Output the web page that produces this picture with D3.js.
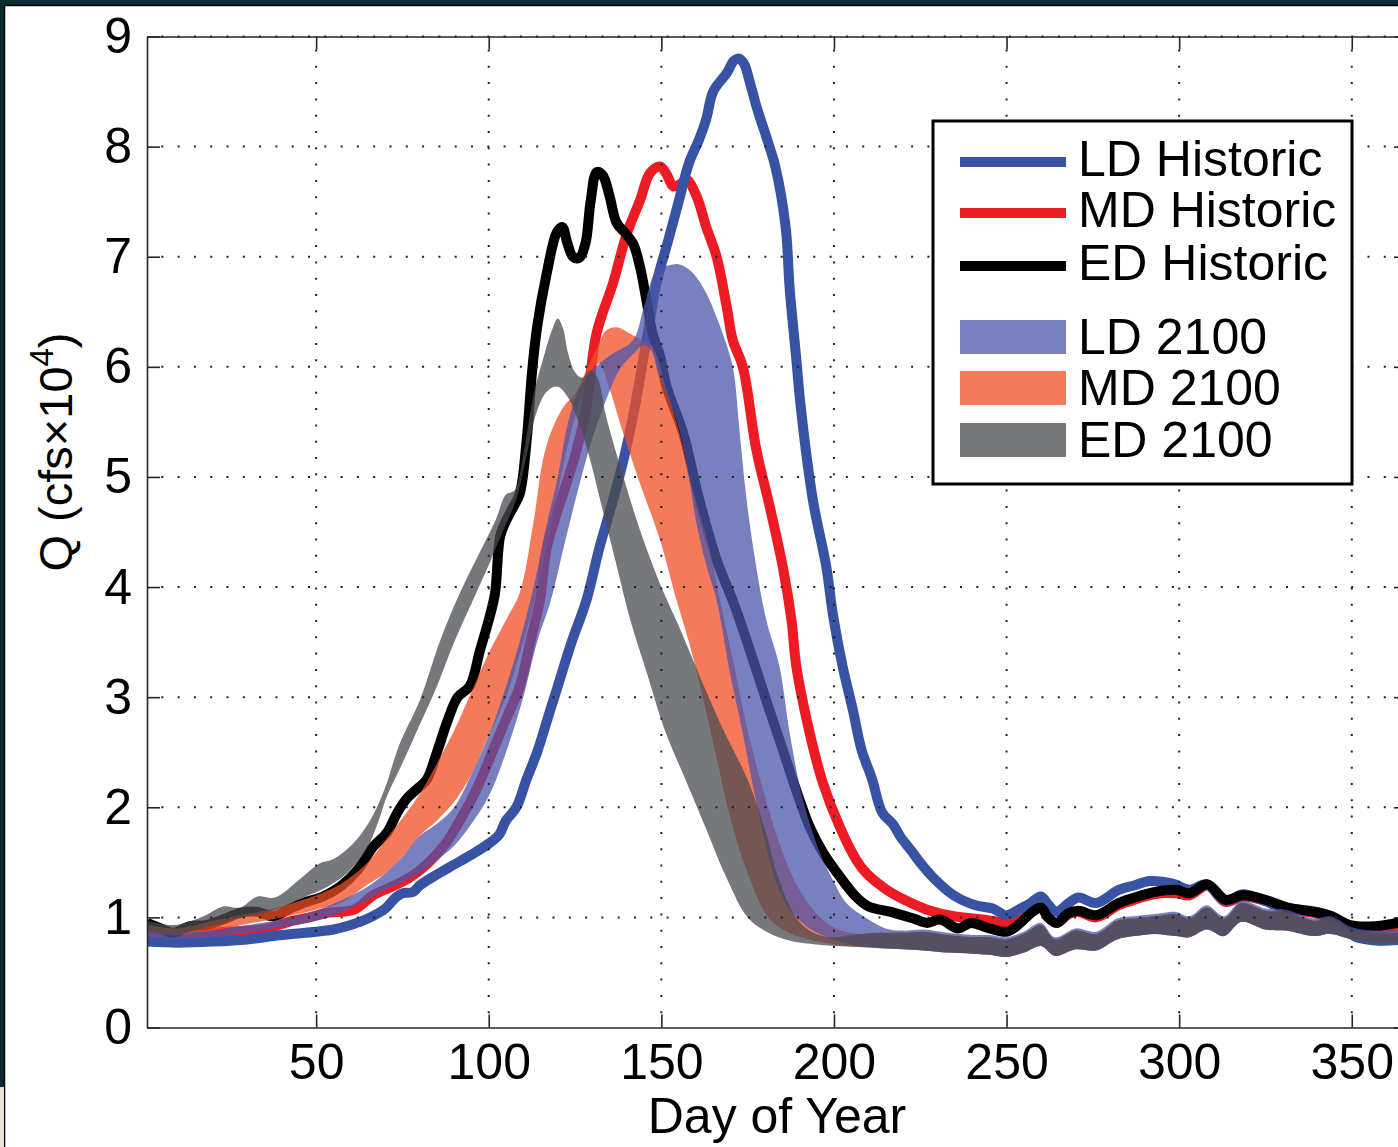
<html>
<head>
<script src="https://d3js.org/d3.v7.min.js"></script>
<style>
  body { margin: 0; background: #0c2a33; }
  svg { display: block; }
  text { font-family: "Liberation Sans", Arial, Helvetica, sans-serif; fill: #000; }
</style>
</head>
<body>
<svg id="chart" width="1398" height="1147"></svg>
<script>
    // ---- data: [day of year, Q (cfs x 10^4)] ----
    const ldHistoric = [[1,0.78],[10,0.77],[20,0.78],[30,0.80],[40,0.84],[50,0.87],[55,0.89],[60,0.93],[65,0.99],[70,1.08],[73,1.18],[75,1.22],[78,1.23],[80,1.29],[85,1.39],[90,1.48],[95,1.57],[100,1.67],[103,1.75],[105,1.88],[108,2.0],[110.9,2.25],[114,2.5],[117,2.8],[120,3.1],[124,3.5],[128.3,3.88],[132,4.35],[136,4.79],[139,5.15],[141.8,5.55],[145.7,6.24],[148.6,6.76],[152,7.15],[155,7.5],[158,7.85],[161,8.07],[163,8.25],[165,8.5],[169,8.67],[171,8.78],[172.5,8.8],[174,8.75],[175.5,8.6],[177.6,8.36],[181,8.03],[183,7.82],[186,7.27],[187.2,6.7],[189,6.1],[190.5,5.6],[193.9,4.79],[197.8,4.18],[199.7,3.75],[202.5,3.28],[205.5,2.88],[208,2.52],[211,2.26],[214,1.95],[217,1.85],[219.3,1.73],[222.8,1.59],[224.4,1.52],[228.5,1.37],[234.7,1.20],[241,1.11],[246,1.08],[250,1.02],[254,1.08],[257,1.13],[259.9,1.19],[262,1.12],[264.4,1.05],[268,1.13],[270.8,1.18],[276,1.13],[282.5,1.25],[287,1.29],[291.5,1.33],[297.9,1.31],[303,1.25],[308,1.30],[313.4,1.15],[318.5,1.21],[324,1.16],[328.8,1.10],[335,1.07],[340,1.05],[344,1.01],[347,0.95],[350.7,0.83],[357,0.79],[366,0.80]];

    const mdHistoric = [[1,0.84],[8,0.82],[15,0.84],[23,0.87],[31,0.88],[36,0.90],[42,0.96],[48,1.0],[53,1.04],[61,1.07],[66.5,1.20],[72,1.28],[77,1.36],[82,1.48],[87,1.65],[92,1.90],[97,2.2],[101,2.5],[105,2.8],[109,3.1],[112,3.5],[114.8,3.88],[116.7,4.34],[119,4.6],[122.5,4.94],[125.5,5.25],[128.3,5.64],[131.2,6.30],[136,6.76],[140,7.21],[143.8,7.51],[146.7,7.76],[149.6,7.82],[151.5,7.75],[153.4,7.64],[155.5,7.66],[157.3,7.70],[160.2,7.55],[163,7.27],[166,7.00],[168.9,6.55],[170.7,6.24],[173.6,6.0],[177.5,5.25],[181.4,4.73],[185.2,4.18],[187.7,3.70],[189.1,3.28],[193,2.67],[196.8,2.22],[201.7,1.82],[206.5,1.52],[209.4,1.40],[215.3,1.25],[220.4,1.16],[227,1.07],[234.7,1.01],[243.7,0.98],[250,0.95],[254,0.98],[257.5,1.05],[260,1.09],[262,1.0],[264.5,0.95],[268,1.03],[270.8,1.05],[276,1.0],[282.4,1.11],[287,1.16],[292.7,1.21],[299,1.22],[303,1.20],[308.2,1.29],[313.4,1.14],[318.5,1.19],[324.9,1.15],[331.4,1.08],[339,1.04],[344.2,0.99],[349.5,0.92],[357,0.90],[366,0.93]];

    const edHistoric = [[1,0.95],[5,0.90],[8.5,0.86],[13.5,0.92],[18,0.93],[23,0.98],[28,1.04],[33,1.05],[37.5,1.01],[42.5,1.08],[47,1.14],[52,1.19],[57,1.28],[62,1.43],[66.5,1.64],[70.5,1.77],[73.5,1.95],[76,2.07],[79,2.16],[82,2.25],[85,2.5],[88,2.78],[91,3.0],[94.5,3.1],[97.5,3.43],[100,3.7],[101.8,3.94],[103.3,4.46],[105,4.6],[107,4.72],[109,4.85],[111,5.34],[112.5,5.94],[114,6.36],[116.8,6.85],[119.7,7.22],[121.3,7.27],[122.8,7.12],[124.4,7.0],[126.2,6.99],[128,7.12],[129.5,7.5],[131.3,7.77],[133,7.74],[135,7.55],[137,7.31],[139.4,7.22],[141.8,7.12],[143.8,6.91],[145.7,6.6],[147.5,6.3],[149.6,6.1],[151.5,5.82],[156.3,5.4],[161,4.79],[166,4.25],[171,3.85],[175.6,3.43],[180.4,2.97],[185.2,2.52],[190,2.07],[193,1.82],[196.8,1.59],[201,1.40],[206.3,1.19],[210,1.10],[216.5,1.05],[223,0.99],[227,0.95],[230.7,0.98],[236,0.90],[239.7,0.95],[245,0.90],[250.2,0.87],[254,0.95],[257.5,1.05],[260,1.09],[262,1.0],[264.5,0.95],[268,1.04],[270.8,1.06],[276,1.02],[282.4,1.13],[287,1.18],[292.7,1.23],[299,1.25],[303,1.22],[308.2,1.30],[313.4,1.16],[318.5,1.20],[324.9,1.16],[331.4,1.09],[339,1.05],[344.2,1.01],[349.5,0.93],[357,0.92],[366,0.97]];

    // 2100 ensemble envelopes (upper / lower edge). All three share the low-flow tail.
    const tailHi = [[220,0.86],[226,0.87],[233,0.84],[240,0.82],[245,0.82],[250,0.80],[255,0.85],[260,0.93],[264,0.80],[270,0.88],[276,0.85],[282,0.97],[287,0.99],[293,1.01],[299,1.03],[303,0.99],[308,1.09],[313,0.99],[318,1.13],[325,1.06],[331,1.05],[339,0.97],[344,0.99],[350,0.89],[357,0.86],[366,0.87]];
    const tailLo = [[220,0.71],[226,0.70],[233,0.68],[240,0.67],[245,0.66],[250,0.64],[255,0.68],[260,0.74],[264,0.65],[270,0.71],[276,0.70],[282,0.80],[287,0.83],[293,0.85],[299,0.83],[303,0.82],[308,0.89],[313,0.83],[318,0.96],[325,0.89],[331,0.88],[339,0.83],[344,0.85],[350,0.80],[357,0.77],[366,0.78]];

    const ld2100Hi = [[1,0.90],[10,0.86],[20,0.88],[30,0.93],[40,0.98],[50,1.06],[57,1.15],[65,1.28],[70,1.40],[75,1.55],[80,1.74],[85,1.85],[90,2.0],[95,2.3],[100,2.65],[104,3.0],[108,3.4],[113,4.0],[117,4.6],[120,5.0],[123,5.5],[126,5.78],[130,5.97],[136,6.12],[141.8,6.24],[145,6.55],[148.6,6.88],[152,6.92],[155.3,6.93],[159.2,6.85],[163,6.67],[166,6.45],[168,6.28],[170.7,6.0],[172.7,5.40],[174.7,4.79],[177.5,4.18],[180.4,3.70],[184.2,3.28],[187.2,2.67],[191,2.07],[195.9,1.59],[199.7,1.34],[203.6,1.13],[210,0.98],[215,0.90]];
    const ld2100Lo = [[1,0.82],[10,0.80],[20,0.82],[30,0.86],[40,0.91],[50,0.97],[57,1.04],[65,1.16],[70,1.25],[75,1.32],[80,1.40],[85,1.52],[90,1.65],[95,1.85],[100,2.10],[105,2.50],[110,3.0],[114,3.5],[118,3.88],[122,4.4],[126,4.9],[130,5.35],[134,5.7],[138,5.98],[142,6.12],[145,6.2],[147,6.15],[149,5.95],[151.5,5.75],[155,5.45],[158,5.0],[160,4.6],[163,4.2],[166,3.88],[170,3.2],[173.6,2.67],[176.5,2.2],[179.4,1.77],[183,1.34],[187,1.08],[192,0.92],[198,0.82],[204,0.76],[210,0.73],[215,0.72]];

    const md2100Hi = [[1,0.93],[10,0.90],[20,0.97],[30,1.03],[40,1.10],[50,1.20],[57,1.30],[65,1.50],[70,1.70],[75,1.90],[80,2.12],[85,2.40],[90,2.70],[95,3.05],[100,3.40],[105,3.70],[109,3.95],[113,4.60],[116,5.2],[119,5.48],[122,5.65],[125,5.75],[128,5.95],[131,6.15],[134,6.33],[137,6.36],[141,6.30],[145,6.23],[147.5,6.18],[151.5,5.79],[155.3,5.40],[159.2,4.88],[164,4.34],[167,3.88],[171,3.3],[175,2.7],[180,2.1],[185,1.6],[190,1.25],[196,1.0],[202,0.88],[208,0.85],[214,0.86]];
    const md2100Lo = [[1,0.86],[10,0.84],[20,0.88],[30,0.94],[40,1.00],[50,1.07],[57,1.13],[65,1.30],[70,1.40],[75,1.55],[80,1.74],[85,1.88],[90,2.05],[95,2.30],[100,2.65],[105,3.0],[110,3.5],[115,4.1],[119,4.7],[123,5.3],[127,5.75],[130,5.98],[132,6.03],[135,5.8],[138,5.49],[143.8,4.94],[149.6,4.43],[154.4,3.88],[158,3.5],[162,3.0],[166,2.45],[170,1.9],[175,1.4],[181,1.0],[187,0.86],[194,0.79],[201,0.75],[208,0.73],[214,0.72]];

    const ed2100Hi = [[1,0.97],[8.5,0.93],[14,0.97],[18,1.02],[23,1.10],[28,1.09],[33,1.19],[38,1.18],[45,1.34],[51,1.49],[55,1.53],[61,1.68],[66,1.90],[70,2.18],[74,2.56],[80,2.97],[86,3.52],[92,3.97],[97,4.29],[102,4.61],[105,4.84],[107.5,4.88],[110,5.2],[113,5.75],[116,6.1],[118.5,6.35],[120,6.44],[121.5,6.35],[123,6.12],[125,5.95],[127,5.9],[129.5,5.97],[131.5,5.9],[134,5.55],[139,5.0],[144,4.5],[150,4.0],[155,3.65],[161,3.2],[168,2.7],[175,2.25],[180,1.8],[184,1.35],[189,1.0],[194,0.86],[199,0.82],[205,0.84],[212,0.86]];
    const ed2100Lo = [[1,0.87],[8.5,0.84],[18,0.91],[28,1.00],[37.5,1.06],[47,1.19],[52.7,1.27],[58.5,1.39],[64.3,1.60],[68,1.87],[70.5,2.10],[75,2.40],[80,2.75],[85,3.1],[90,3.5],[95,3.85],[100,4.2],[104,4.5],[108,4.8],[111,5.2],[114,5.6],[117,5.78],[120,5.82],[123,5.72],[126,5.5],[129,5.2],[133,4.7],[137,4.2],[141,3.7],[146,3.2],[151,2.7],[157,2.25],[163,1.8],[169,1.35],[175,1.0],[181,0.86],[187,0.79],[193,0.76],[200,0.74],[207,0.73],[213,0.72]];

    const xTicks = [50, 100, 150, 200, 250, 300, 350];
    const yTicks = [0, 1, 2, 3, 4, 5, 6, 7, 8, 9];

    const historic = [
        { label: "LD Historic", color: "#3953a4", data: ldHistoric },
        { label: "MD Historic", color: "#ed1c24", data: mdHistoric },
        { label: "ED Historic", color: "#000000", data: edHistoric },
    ];
    const future = [
        { label: "LD 2100", color: "#4c56aa", hi: ld2100Hi.concat(tailHi.map(d => [d[0], d[1] + 0.02])), lo: ld2100Lo.concat(tailLo) },
        { label: "MD 2100", color: "#ef4f26", hi: md2100Hi.concat(tailHi), lo: md2100Lo.concat(tailLo) },
        { label: "ED 2100", color: "#4a4b4f", hi: ed2100Hi.concat(tailHi), lo: ed2100Lo.concat(tailLo) },
    ];
    const bandOpacity = 0.75;

    // ---- layout ----
    const svg = d3.select("#chart");
    const plotLeft = 147, plotRight = 1407, plotTop = 36.5, plotBottom = 1027.5;

    // page frame
    svg.append("rect").attr("width", 1398).attr("height", 1147).attr("fill", "#0c2a33");
    svg.append("rect").attr("x", 5).attr("y", 6).attr("width", 1393).attr("height", 1141).attr("fill", "#fff");
    svg.append("path").attr("d", "M4.5,1147V5.5H1398").attr("fill", "none").attr("stroke", "#000").attr("stroke-width", 1.5);
    svg.append("rect").attr("x", 0).attr("y", 1087).attr("width", 4).attr("height", 60).attr("fill", "#ebe4d6");

    const x = d3.scaleLinear().domain([1, 366]).range([plotLeft, plotRight]);
    const y = d3.scaleLinear().domain([0, 9]).range([plotBottom, plotTop]);

    svg.append("clipPath").attr("id", "plot-clip")
        .append("rect").attr("x", plotLeft).attr("y", plotTop)
        .attr("width", plotRight - plotLeft).attr("height", plotBottom - plotTop);

    const plot = svg.append("g").attr("clip-path", "url(#plot-clip)");

    const line = d3.line()
        .x(d => x(d[0]))
        .y(d => y(d[1]))
        .curve(d3.curveCatmullRom);

    function bandPath(hi, lo) {
        const upper = line(hi);
        const lower = line(lo.slice().reverse());
        return upper + "L" + lower.slice(1) + "Z";
    }

    // historic lines (drawn first, the 2100 envelopes sit on top of them)
    const lineOrder = [historic[1], historic[0], historic[2]];
    plot.selectAll("path.hist")
        .data(lineOrder)
        .join("path")
        .attr("class", "hist")
        .attr("d", d => line(d.data))
        .attr("fill", "none")
        .attr("stroke", d => d.color)
        .attr("stroke-width", 10)
        .attr("stroke-linejoin", "round");

    const bandOrder = [future[1], future[0], future[2]];
    plot.selectAll("path.band")
        .data(bandOrder)
        .join("path")
        .attr("class", "band")
        .attr("d", d => bandPath(d.hi, d.lo))
        .attr("fill", d => d.color)
        .attr("fill-opacity", bandOpacity)
        .attr("stroke", "none");

    // dotted grid
    const grid = svg.append("g")
        .attr("stroke", "#222")
        .attr("stroke-width", 2)
        .attr("stroke-dasharray", "2 14.3")
        .attr("stroke-dashoffset", 2);
    grid.selectAll("line.gy")
        .data(yTicks.filter(v => v > 0))
        .join("line")
        .attr("class", "gy")
        .attr("x1", plotLeft).attr("x2", plotRight)
        .attr("y1", d => y(d)).attr("y2", d => y(d));
    grid.selectAll("line.gx")
        .data(xTicks)
        .join("line")
        .attr("class", "gx")
        .attr("x1", d => x(d)).attr("x2", d => x(d))
        .attr("y1", plotBottom).attr("y2", plotTop);

    // axes
    function styleAxis(g) {
        g.attr("font-family", "Liberation Sans, Arial, sans-serif").attr("font-size", 50);
        g.select(".domain").attr("stroke", "#262626").attr("stroke-width", 1.6);
        g.selectAll(".tick line").attr("stroke", "#262626").attr("stroke-width", 1.6);
        g.selectAll(".tick text").attr("fill", "#000");
    }

    svg.append("g")
        .attr("transform", `translate(0,${plotBottom})`)
        .call(d3.axisBottom(x).tickValues(xTicks).tickSize(-13).tickSizeOuter(0).tickPadding(16))
        .call(styleAxis);
    svg.append("g")
        .attr("transform", `translate(0,${plotTop})`)
        .call(d3.axisTop(x).tickValues(xTicks).tickSize(-13).tickSizeOuter(0).tickFormat(() => ""))
        .call(styleAxis);
    svg.append("g")
        .attr("transform", `translate(${plotLeft},0)`)
        .call(d3.axisLeft(y).tickValues(yTicks).tickSize(-13).tickSizeOuter(0).tickPadding(15))
        .call(styleAxis);
    svg.append("g")
        .attr("transform", `translate(${plotRight},0)`)
        .call(d3.axisRight(y).tickValues(yTicks).tickSize(-13).tickSizeOuter(0).tickFormat(() => ""))
        .call(styleAxis);

    // axis titles
    svg.append("text")
        .attr("x", 777).attr("y", 1133)
        .attr("text-anchor", "middle")
        .attr("font-size", 50)
        .text("Day of Year");

    const yTitle = svg.append("text")
        .attr("transform", "translate(72,452) rotate(-90)")
        .attr("text-anchor", "middle")
        .attr("font-size", 47);
    yTitle.append("tspan").text("Q (cfs\u00d710");
    yTitle.append("tspan").attr("font-size", 33).attr("dy", -19).text("4");
    yTitle.append("tspan").attr("dy", 19).text(")");

    // legend
    const legend = svg.append("g");
    legend.append("rect")
        .attr("x", 933).attr("y", 121).attr("width", 419).attr("height", 363)
        .attr("fill", "#fff").attr("stroke", "#000").attr("stroke-width", 3);

    const lineRows = [162, 213, 266];
    const patchRows = [337, 388, 440];
    historic.forEach((s, i) => {
        legend.append("line")
            .attr("x1", 960).attr("x2", 1066)
            .attr("y1", lineRows[i]).attr("y2", lineRows[i])
            .attr("stroke", s.color).attr("stroke-width", 10);
        legend.append("text")
            .attr("x", 1078).attr("y", lineRows[i] + 14)
            .attr("font-size", 50)
            .text(s.label);
    });
    future.forEach((s, i) => {
        legend.append("rect")
            .attr("x", 960).attr("y", patchRows[i] - 17)
            .attr("width", 106).attr("height", 34)
            .attr("fill", s.color).attr("fill-opacity", bandOpacity);
        legend.append("text")
            .attr("x", 1078).attr("y", patchRows[i] + 17)
            .attr("font-size", 50)
            .text(s.label);
    });
</script>
</body>
</html>
